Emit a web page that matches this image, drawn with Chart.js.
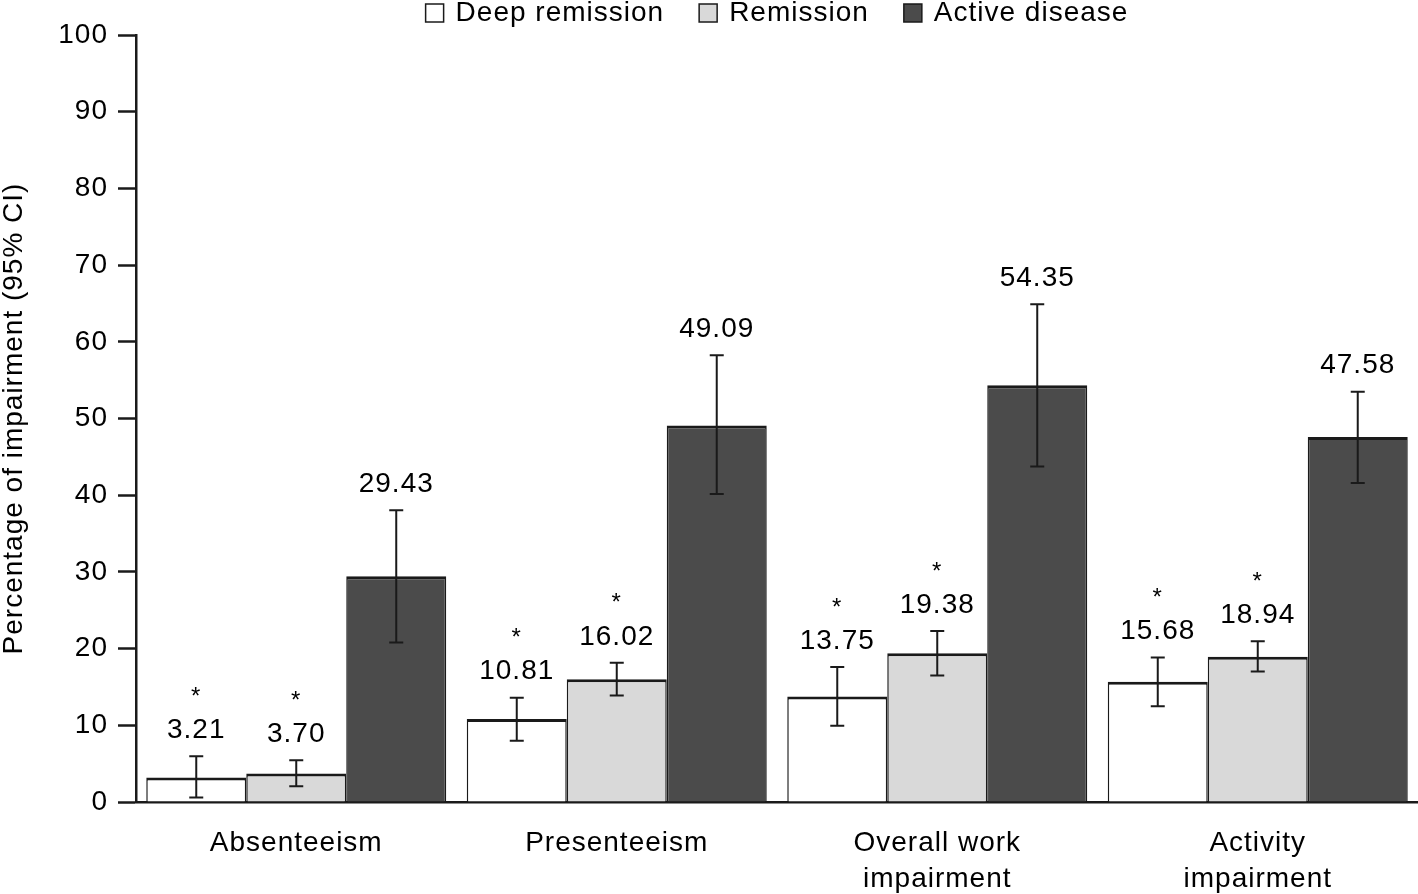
<!DOCTYPE html>
<html>
<head>
<meta charset="utf-8">
<script src="https://cdn.jsdelivr.net/npm/chart.js@4.4.0/dist/chart.umd.min.js"></script>
<style>
    html, body { margin: 0; padding: 0; background: #fff; }
    #wrap { width: 1418px; height: 894px; position: relative; }
</style>
</head>
<body>
<div id="wrap"><canvas id="impairmentChart"></canvas></div>
<script>
const categories = [["Absenteeism"], ["Presenteeism"], ["Overall work", "impairment"], ["Activity", "impairment"]];
const yTicks = [0, 10, 20, 30, 40, 50, 60, 70, 80, 90, 100];

const seriesNames = ["Deep remission", "Remission", "Active disease"];

const deepRemission = [3.21, 10.81, 13.75, 15.68];
const deepLow = [0.6, 8.0, 9.95, 12.5];
const deepHigh = [5.95, 13.6, 17.6, 18.85];
const deepStars = [true, true, true, true];

const remission = [3.70, 16.02, 19.38, 18.94];
const remLow = [2.05, 13.9, 16.5, 17.0];
const remHigh = [5.45, 18.15, 22.3, 20.95];
const remStars = [true, true, true, true];

const activeDisease = [29.43, 49.09, 54.35, 47.58];
const activeLow = [20.8, 40.15, 43.75, 41.6];
const activeHigh = [38.05, 58.25, 64.9, 53.5];
const activeStars = [false, false, false, false];

const FONT = "'Liberation Sans', Arial, sans-serif";
const INK = "#1a1a1a";
const TEXT = "#000";

// widen the text a little so it runs like the original Helvetica
const spacingPlugin = {
    id: "spacing",
    beforeDraw(chart) {
        chart.ctx.letterSpacing = "1px";
    }
};

// error bars, value labels and significance stars
const annotatePlugin = {
    id: "annotate",
    afterDatasetsDraw(chart) {
        const ctx = chart.ctx;
        const y = chart.scales.y;
        ctx.save();
        chart.data.datasets.forEach((ds, i) => {
            const meta = chart.getDatasetMeta(i);
            meta.data.forEach((bar, j) => {
                const x = bar.x;
                const top = y.getPixelForValue(ds.errHigh[j]);
                const bot = y.getPixelForValue(ds.errLow[j]);
                ctx.strokeStyle = INK;
                ctx.lineWidth = 2;
                ctx.beginPath();
                ctx.moveTo(x, top); ctx.lineTo(x, bot);
                ctx.moveTo(x - 7, top); ctx.lineTo(x + 7, top);
                ctx.moveTo(x - 7, bot); ctx.lineTo(x + 7, bot);
                ctx.stroke();

                ctx.fillStyle = TEXT;
                ctx.textAlign = "center";
                ctx.textBaseline = "middle";
                ctx.font = `28px ${FONT}`;
                ctx.fillText(ds.data[j].toFixed(2), x, top - 26);
                if (ds.stars[j]) {
                    ctx.font = `24px ${FONT}`;
                    ctx.fillText("*", x, top - 59);
                }
            });
        });
        ctx.restore();
    }
};

// legend drawn in one row above the plot
const legendPlugin = {
    id: "topLegend",
    afterDraw(chart) {
        const ctx = chart.ctx;
        const area = chart.chartArea;
        ctx.save();
        ctx.font = `28px ${FONT}`;
        const box = 18, gap = 12, spacing = 35;
        const widths = chart.data.datasets.map(ds => ctx.measureText(ds.label).width);
        const total = widths.reduce((a, w) => a + box + gap + w, 0) + spacing * (widths.length - 1);
        let x = (area.left + area.right) / 2 - total / 2;
        const cy = 13;
        chart.data.datasets.forEach((ds, i) => {
            ctx.fillStyle = ds.backgroundColor;
            ctx.fillRect(x, cy - box / 2, box, box);
            ctx.strokeStyle = INK;
            ctx.lineWidth = 1.5;
            ctx.strokeRect(x, cy - box / 2, box, box);
            ctx.fillStyle = TEXT;
            ctx.textAlign = "left";
            ctx.textBaseline = "middle";
            ctx.fillText(ds.label, x + box + gap, cy);
            x += box + gap + widths[i] + spacing;
        });
        ctx.restore();
    }
};

function makeSet(label, data, lo, hi, stars, color) {
    return {
        label: label,
        data: data,
        errLow: lo,
        errHigh: hi,
        stars: stars,
        backgroundColor: color,
        borderColor: INK,
        borderWidth: { top: 3, left: 1.5, right: 1.5, bottom: 0 },
        borderSkipped: false,
        categoryPercentage: 0.936,
        barPercentage: 1.0
    };
}

const ctx = document.getElementById("impairmentChart").getContext("2d");
new Chart(ctx, {
    type: "bar",
    data: {
        labels: categories,
        datasets: [
            makeSet(seriesNames[0], deepRemission, deepLow, deepHigh, deepStars, "#ffffff"),
            makeSet(seriesNames[1], remission, remLow, remHigh, remStars, "#d9d9d9"),
            makeSet(seriesNames[2], activeDisease, activeLow, activeHigh, activeStars, "#4b4b4b")
        ]
    },
    options: {
        responsive: true,
        maintainAspectRatio: false,
        animation: false,
        layout: { padding: { top: 35, left: 0, right: 0, bottom: 0 } },
        plugins: {
            legend: { display: false },
            tooltip: { enabled: false }
        },
        scales: {
            x: {
                grid: { display: false, drawTicks: false },
                border: { display: true, color: INK, width: 2.5 },
                ticks: {
                    color: TEXT,
                    padding: 23,
                    maxRotation: 0,
                    font: { family: FONT, size: 28, lineHeight: 1.3 }
                },
                afterFit: s => { s.height = 92; }
            },
            y: {
                min: 0,
                max: 100,
                afterBuildTicks: s => { s.ticks = yTicks.map(v => ({ value: v })); },
                grid: {
                    drawOnChartArea: false,
                    drawTicks: true,
                    tickLength: 18,
                    tickColor: INK,
                    tickWidth: 2.5
                },
                border: { display: true, color: INK, width: 2.5 },
                ticks: {
                    color: TEXT,
                    padding: 10,
                    font: { family: FONT, size: 28 }
                },
                title: {
                    display: true,
                    text: "Percentage of impairment (95% CI)",
                    color: TEXT,
                    padding: 0,
                    font: { family: FONT, size: 28, lineHeight: 1.0 }
                },
                afterFit: s => { s.width = 136; }
            }
        }
    },
    plugins: [spacingPlugin, annotatePlugin, legendPlugin]
});
</script>
</body>
</html>
